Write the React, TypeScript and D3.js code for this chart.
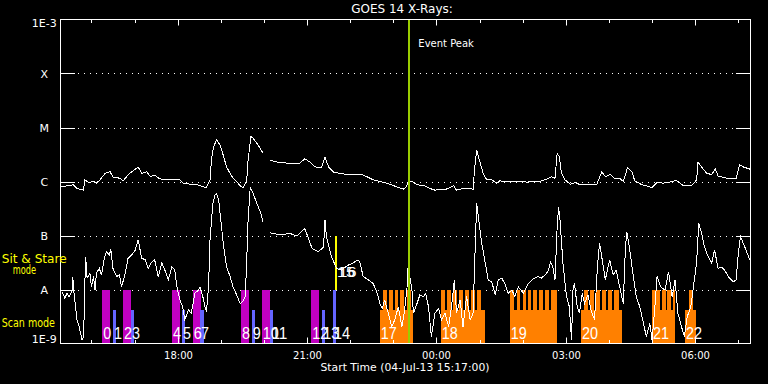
import React from "react";
import * as d3 from "d3";

// ---------- DATA ----------
// Time axis: minutes after start (04-Jul-13 15:17:00)
const START = new Date(2013, 6, 4, 15, 17, 0);
const END = new Date(2013, 6, 5, 7, 17, 0);

// GOES 14 long channel (1-8 A) : [minutes, log10 flux W/m^2]; null = data gap
const goesLong: ([number, number] | null)[] = [
  [0,-6.10],[9,-6.08],[18,-6.06],[23,-6.13],[32,-6.16],[34,-5.97],[39,-6.02],[46,-6.00],[50,-6.03],[55,-5.97],
  [62,-5.85],[69,-5.82],[73,-5.92],[83,-5.94],[87,-5.99],[92,-5.91],[97,-5.84],[108,-5.73],[113,-5.85],[120,-5.82],
  [125,-5.91],[131,-5.88],[138,-5.95],[148,-5.97],[166,-5.97],[171,-6.03],[180,-6.05],[190,-6.06],[199,-6.10],[203,-6.11],
  [208,-5.97],[210,-5.60],[213,-5.36],[217,-5.23],[222,-5.32],[227,-5.54],[231,-5.73],[236,-5.85],[240,-5.94],[245,-6.00],
  [250,-6.08],[254,-6.11],[259,-6.00],[261,-5.60],[265,-5.17],[268,-5.20],[273,-5.29],[278,-5.39],[282,-5.48],
  null,
  [292,-5.61],[301,-5.64],[315,-5.66],[333,-5.66],[340,-5.58],[347,-5.64],[354,-5.73],[363,-5.74],[368,-5.55],[373,-5.73],
  [380,-5.83],[393,-5.86],[407,-5.88],[417,-5.86],[426,-5.91],[435,-5.97],[454,-6.03],[468,-6.10],[477,-6.14],[481,-6.10],
  [484,-5.99],[489,-6.00],[496,-6.06],[507,-6.08],[514,-6.13],[521,-6.16],[537,-6.14],[547,-6.08],[551,-6.16],[560,-6.13],
  [574,-6.14],[576,-5.79],[579,-5.42],[584,-5.66],[588,-5.85],[593,-5.97],[600,-5.97],[607,-6.03],[611,-5.99],[630,-6.00],
  [649,-6.01],[667,-6.00],[676,-5.96],[683,-5.91],[688,-5.94],[691,-5.48],[694,-5.54],[697,-5.85],[702,-5.97],[709,-6.05],
  [716,-6.02],[723,-6.06],[732,-6.06],[746,-6.06],[753,-5.82],[758,-5.91],[765,-5.87],[771,-5.95],[778,-5.94],[783,-6.00],
  [789,-5.74],[795,-5.82],[799,-5.99],[809,-6.06],[823,-6.11],[830,-6.02],[839,-6.03],[848,-6.01],[857,-5.98],[867,-6.08],
  [878,-6.08],[885,-5.97],[887,-5.64],[892,-5.73],[899,-5.85],[906,-5.87],[911,-5.77],[915,-5.90],[927,-5.94],[940,-5.94],
  [945,-5.69],[950,-5.73],[959,-5.77],
];

// GOES 14 short channel (0.5-4 A)
const goesShort: ([number, number] | null)[] = [
  [2,-8.04],[6,-8.16],[9,-8.07],[12,-8.13],[16,-8.04],[17,-7.76],[19,-8.10],[23,-8.56],[26,-8.69],[30,-8.94],
  [32,-8.87],[33,-8.44],[34,-7.82],[35,-7.39],[37,-7.79],[41,-7.70],[43,-7.95],[46,-7.76],[48,-8.01],[50,-7.70],
  [54,-7.61],[57,-7.73],[61,-7.42],[64,-7.30],[68,-7.36],[70,-7.26],[73,-7.61],[78,-7.76],[82,-7.73],[85,-7.95],
  [90,-7.70],[94,-7.42],[99,-7.36],[104,-7.27],[108,-7.08],[113,-7.42],[118,-7.45],[122,-7.61],[127,-7.49],[131,-7.45],
  [136,-7.76],[141,-7.51],[147,-7.70],[150,-7.82],[155,-7.58],[159,-7.64],[162,-7.95],[166,-8.19],[170,-8.32],[173,-8.56],
  [178,-8.38],[182,-8.44],[187,-8.07],[192,-8.01],[194,-7.95],[198,-8.13],[201,-8.32],[203,-8.41],[206,-7.95],[208,-7.08],
  [212,-6.40],[215,-6.25],[217,-6.22],[220,-6.34],[223,-6.71],[227,-7.21],[231,-7.58],[236,-7.76],[240,-7.95],[245,-8.10],
  [250,-8.26],[253,-8.23],[257,-8.13],[259,-7.51],[261,-6.71],[264,-6.10],[268,-6.22],[273,-6.40],[278,-6.56],[282,-6.76],
  null,
  [292,-6.95],[305,-6.99],[319,-6.96],[329,-7.01],[340,-6.87],[350,-7.24],[359,-7.30],[366,-7.21],[368,-6.71],[370,-7.02],
  [377,-7.39],[384,-7.61],[391,-7.64],[400,-7.55],[407,-7.51],[414,-7.45],[417,-7.51],[421,-7.76],[428,-7.82],[435,-7.89],
  [440,-8.04],[445,-8.29],[448,-8.35],[451,-8.19],[456,-8.44],[461,-8.69],[465,-8.56],[470,-8.32],[475,-8.69],[478,-8.44],
  [482,-8.01],[483,-7.61],[486,-7.76],[489,-8.01],[491,-8.44],[496,-8.26],[500,-8.10],[505,-8.13],[508,-8.07],[512,-8.32],
  [516,-8.87],[521,-8.44],[526,-8.35],[530,-8.56],[535,-8.44],[540,-8.69],[544,-8.32],[548,-7.82],[551,-8.44],[556,-8.19],
  [560,-8.69],[565,-8.13],[570,-8.56],[574,-8.44],[577,-7.21],[579,-6.40],[582,-6.71],[586,-7.14],[591,-7.51],[595,-7.82],
  [600,-7.86],[605,-8.10],[609,-7.82],[614,-7.79],[618,-7.89],[623,-8.07],[628,-8.01],[632,-8.13],[637,-7.95],[644,-8.07],
  [651,-7.89],[656,-7.82],[660,-7.79],[664,-7.76],[669,-7.79],[674,-7.73],[678,-7.67],[682,-7.49],[685,-7.58],[688,-7.82],
  [691,-6.84],[693,-6.47],[695,-6.71],[699,-7.51],[704,-8.13],[708,-8.32],[711,-8.94],[713,-8.01],[715,-7.89],[719,-8.32],
  [722,-8.44],[726,-8.07],[729,-8.26],[734,-8.10],[738,-8.38],[743,-8.56],[747,-7.58],[750,-7.14],[753,-7.39],[758,-7.82],
  [764,-7.45],[769,-7.73],[773,-7.64],[778,-7.95],[783,-8.26],[786,-7.21],[788,-6.93],[792,-7.27],[797,-7.76],[801,-8.13],
  [806,-8.32],[810,-8.56],[815,-8.87],[820,-8.63],[823,-8.94],[827,-8.32],[830,-7.76],[835,-7.95],[841,-8.01],[846,-7.67],
  [851,-8.13],[855,-7.82],[859,-8.44],[864,-8.69],[868,-8.87],[872,-8.50],[877,-8.32],[880,-8.01],[885,-7.51],[888,-6.77],
  [892,-6.96],[896,-7.21],[901,-7.39],[906,-7.51],[910,-7.27],[915,-7.61],[919,-7.58],[924,-7.64],[929,-7.76],[936,-7.86],
  [940,-7.82],[943,-7.33],[946,-7.02],[952,-7.21],[959,-7.45],
];

// Observation bars [start, end] in minutes after start
const magentaBars: [number, number][] = [[58,69],[87,98],[155,166],[184,196],[251,262],[280,292],[349,360]];
const blueShortBars: [number, number][] = [[73,77],[98,102],[169,173],[194,200],[266,271],[292,296],[364,368]];
const blueTallBars: [number, number][] = [[379,383]];
const sitStareBars: [number, number][] = [[382,385]];
const orangeBase: [number, number][] = [[444,491],[529,591],[625,691],[724,781],[823,855],[869,884]];
const orangeTeeth: [number, number][] = [
  [449,454],[457,462],[465,470],[473,478],[482,487],
  [529,535],[538,543],[546,551],[554,560],[563,568],[571,576],[579,585],
  [625,631],[635,639],[643,647],[651,655],[658,663],[666,671],[674,679],[682,691],
  [728,734],[737,742],[745,750],[753,759],[762,767],[770,777],
  [823,834],[837,842],[844,849],[852,855],
  [874,880],
];
// bar level tops (flux)
const LEVEL_FLOOR = 1e-9;
const LEVEL_SHORT = 4.2e-9;
const LEVEL_TALL = 1e-8;
const LEVEL_SITSTARE = 1e-7;

const scanLabels = ["0","1","2","3","4","5","6","7","8","9","10","11","12","13","14","17","18","19","20","21","22"];
const scanLabelMin = [58,73,87,98,155,169,184,194,251,266,280,292,349,364,379,444,529,625,724,823,869];
const sitLabels = ["15","16"];
const sitLabelMin = [382,384];

const eventPeakMin = 484.5;

const yTickVals = [1e-9,1e-8,1e-7,1e-6,1e-5,1e-4,1e-3];
const yTickText = ["1E-9","A","B","C","M","X","1E-3"];
const gridVals = [1e-8,1e-7,1e-6,1e-5,1e-4];

// ---------- CHART ----------
const W = 768, H = 384;
const L = 60.5, R = 750.5, T = 19.5, B = 343.5;
const toDate = (m: number) => new Date(START.getTime() + m * 60000);

const x = d3.scaleTime().domain([START, END]).range([L, R]);
const y = d3.scaleLog().domain([1e-9, 1e-3]).range([B, T]).clamp(true);

const FONT = "DejaVu Sans, sans-serif";

function seriesPath(data: ([number, number] | null)[]) {
  const line = d3.line<[number, number] | null>()
    .defined((d) => d !== null)
    .x((d) => x(toDate((d as [number, number])[0])))
    .y((d) => y(Math.pow(10, (d as [number, number])[1])));
  return line(data) || "";
}

function bars(list: [number, number][], top: number, bottom: number, color: string, key: string) {
  return list.map(([a, b], i) => {
    const x0 = Math.round(x(toDate(a)));
    const x1 = Math.round(x(toDate(b)));
    const y0 = Math.round(y(top));
    const y1 = Math.round(y(bottom));
    return <rect key={key + i} x={x0} y={y0} width={Math.max(1, x1 - x0)} height={y1 - y0} fill={color} shapeRendering="crispEdges" />;
  });
}

export default function App() {
  const hours = d3.timeHour.range(START, END);
  const yLabelBaseline = (v: number, i: number) => {
    if (i === 0) return y(v) - 0.2;
    if (i === yTickVals.length - 1) return y(v) + 7.2;
    return y(v) + 4;
  };
  return (
    <div style={{ position: "absolute", left: 0, top: 0 }}>
      <svg width={W} height={H} style={{ display: "block", background: "#000" }}>
        <rect x={0} y={0} width={W} height={H} fill="#000" />
        {/* title */}
        <text x={402} y={13.3} fill="#fff" fontFamily={FONT} fontSize={12} textAnchor="middle">GOES 14 X-Rays:</text>

        {/* grid lines */}
        {gridVals.map((v, i) => {
          const yy = Math.round(y(v));
          return (
            <g key={"g" + i}>
              <line x1={L} x2={75} y1={yy} y2={yy} stroke="#fff" strokeWidth={1} shapeRendering="crispEdges" />
              <line x1={736} x2={R} y1={yy} y2={yy} stroke="#fff" strokeWidth={1} shapeRendering="crispEdges" />
              <line x1={75} x2={735} y1={yy} y2={yy} stroke="#fff" strokeWidth={1} strokeDasharray="1 5" strokeDashoffset={3} shapeRendering="crispEdges" />
            </g>
          );
        })}

        {/* bars */}
        {bars(orangeBase, LEVEL_SHORT, LEVEL_FLOOR, "#ff8000", "ob")}
        {bars(orangeTeeth, LEVEL_TALL, LEVEL_FLOOR, "#ff8000", "ot")}
        {bars(magentaBars, LEVEL_TALL, LEVEL_FLOOR, "#c000c0", "mb")}
        {bars(blueShortBars, LEVEL_SHORT, LEVEL_FLOOR, "#6464ff", "bs")}
        {bars(blueTallBars, LEVEL_TALL, LEVEL_FLOOR, "#6464ff", "bt")}
        {bars(sitStareBars, LEVEL_SITSTARE, LEVEL_TALL, "#ffff00", "ss")}

        {/* bar labels */}
        {scanLabels.map((t, i) => (
          <text key={"sl" + i} x={x(toDate(scanLabelMin[i])) + 1} y={339} fill="#fff" fontFamily="Liberation Sans, sans-serif"
            fontSize={16} textLength={t.length * 8} lengthAdjust="spacingAndGlyphs">{t}</text>
        ))}
        {sitLabels.map((t, i) => (
          <text key={"st" + i} x={x(toDate(sitLabelMin[i])) + 2} y={277} fill="#fff" fontFamily="Liberation Sans, sans-serif"
            fontSize={14} textLength={t.length * 9} lengthAdjust="spacingAndGlyphs">{t}</text>
        ))}

        {/* data */}
        <path d={seriesPath(goesLong)} fill="none" stroke="#fff" strokeWidth={1} shapeRendering="crispEdges" />
        <path d={seriesPath(goesShort)} fill="none" stroke="#fff" strokeWidth={1} shapeRendering="crispEdges" />

        {/* event peak */}
        <line x1={x(toDate(eventPeakMin))} x2={x(toDate(eventPeakMin))} y1={T} y2={B} stroke="#9acd00" strokeWidth={2} shapeRendering="crispEdges" />
        <text x={x(toDate(eventPeakMin)) + 9.6} y={46.7} fill="#fff" fontFamily={FONT} fontSize={10}>Event Peak</text>

        {/* frame */}
        <rect x={L} y={T} width={R - L} height={B - T} fill="none" stroke="#fff" strokeWidth={1} />

        {/* x ticks */}
        {hours.map((h, i) => {
          const xx = Math.round(x(h)) + 0.5;
          const major = h.getHours() % 3 === 0;
          const len = major ? 6 : 3.5;
          return (
            <g key={"xt" + i}>
              <line x1={xx} x2={xx} y1={T} y2={T + len} stroke="#fff" strokeWidth={1} />
              <line x1={xx} x2={xx} y1={B} y2={B - len} stroke="#fff" strokeWidth={1} />
              {major && (
                <text x={xx} y={359} fill="#fff" fontFamily={FONT} fontSize={10} textAnchor="middle">{d3.timeFormat("%H:%M")(h)}</text>
              )}
            </g>
          );
        })}
        <text x={405} y={370.5} fill="#fff" fontFamily={FONT} fontSize={11} textAnchor="middle" textLength={169} lengthAdjust="spacingAndGlyphs">Start Time (04-Jul-13 15:17:00)</text>

        {/* y labels */}
        {yTickVals.map((v, i) => (
          <text key={"yl" + i} x={44.3} y={yLabelBaseline(v, i)} fill="#fff" fontFamily={FONT} fontSize={11} textAnchor="middle">{yTickText[i]}</text>
        ))}

        {/* mode labels */}
        <text x={1.7} y={263.3} fill="#ffff00" fontFamily={FONT} fontSize={12} textLength={65} lengthAdjust="spacingAndGlyphs">Sit &amp; Stare</text>
        <text x={12.7} y={274.3} fill="#ffff00" fontFamily={FONT} fontSize={12.5} textLength={23.3} lengthAdjust="spacingAndGlyphs">mode</text>
        <text x={1.7} y={327.3} fill="#ffff00" fontFamily={FONT} fontSize={12} textLength={53.3} lengthAdjust="spacingAndGlyphs">Scan mode</text>
      </svg>
    </div>
  );
}
